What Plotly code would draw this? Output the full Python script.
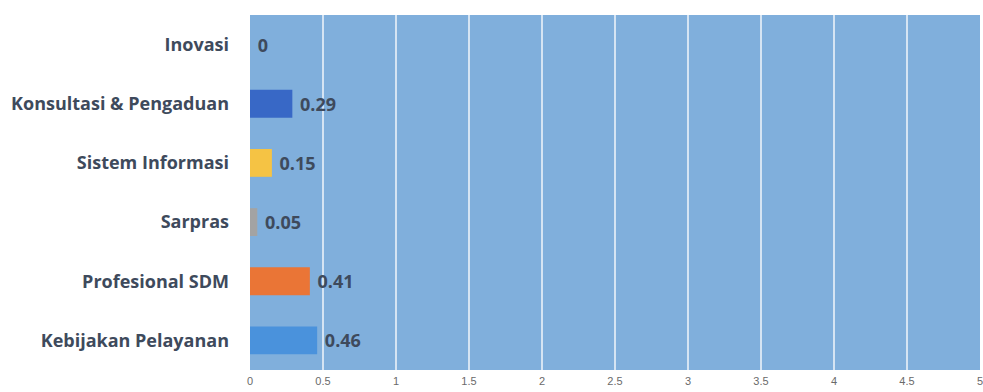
import plotly.graph_objects as go

# Scores per service aspect (bottom to top as drawn)
categories = ["Kebijakan Pelayanan", "Profesional SDM", "Sarpras",
              "Sistem Informasi", "Konsultasi & Pengaduan", "Inovasi"]
values = [0.46, 0.41, 0.05, 0.15, 0.29, 0]
bar_colors = ["#4a92dc", "#ea7536", "#a3a3a3", "#f5c344", "#3868c6", "#4a92dc"]
x_ticks = [0, 0.5, 1, 1.5, 2, 2.5, 3, 3.5, 4, 4.5, 5]

fig = go.Figure(
    go.Bar(
        y=categories,
        x=values,
        orientation="h",
        marker=dict(color=bar_colors, line=dict(width=0)),
        width=0.47,
        text=[f" {v:g}" for v in values],
        textposition="outside",
        cliponaxis=False,
        textfont=dict(family="Open Sans", size=18, color="#3e4a5c", weight="bold"),
    )
)

fig.update_layout(
    width=983,
    height=392,
    margin=dict(l=250, r=0, t=15, b=22),
    paper_bgcolor="white",
    plot_bgcolor="#80afdc",
    showlegend=False,
    bargap=0.53,
)

fig.update_xaxes(
    range=[0, 5],
    tickvals=x_ticks,
    ticktext=[f"{t:g}" for t in x_ticks],
    showgrid=True,
    gridcolor="rgba(228,237,247,0.85)",
    gridwidth=1.5,
    zeroline=False,
    ticklabeloverflow="allow",
    ticklabelstandoff=3,
    tickfont=dict(family="Liberation Sans Narrow, Liberation Sans", size=11, color="#6a6a6a"),
    ticks="",
)

fig.update_yaxes(
    categoryorder="array",
    categoryarray=categories,
    showgrid=False,
    ticks="",
    ticklabelstandoff=20,
    tickfont=dict(family="Open Sans", size=18, color="#3e4a5c", weight="bold"),
)

fig.write_html("out.html")
